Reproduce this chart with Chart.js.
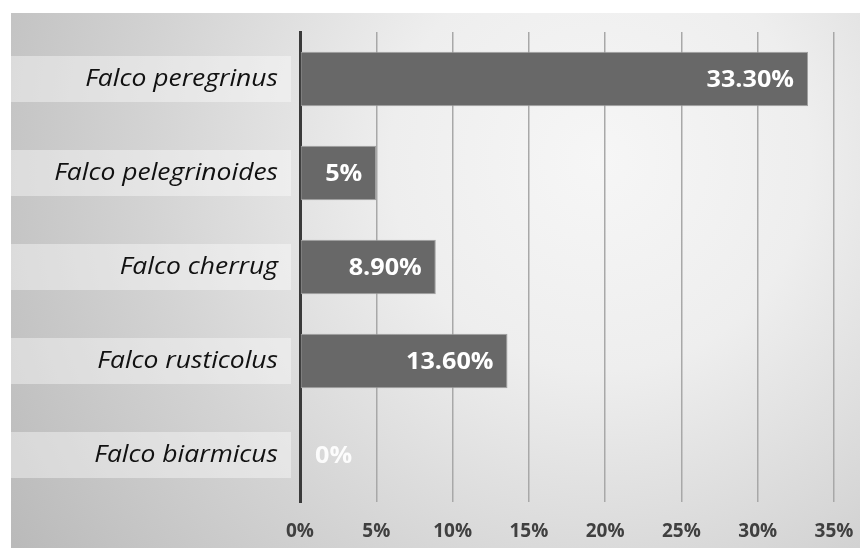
<!DOCTYPE html>
<html>
<head>
<meta charset="utf-8">
<script src="https://cdn.jsdelivr.net/npm/chart.js@4/dist/chart.umd.min.js"></script>
<style>
  html,body{margin:0;padding:0;background:#ffffff;}
  #wrap{position:relative;width:860px;height:548px;}
</style>
</head>
<body>
<div id="wrap"><canvas id="c" width="860" height="548"></canvas></div>
<script>
const categories = ['Falco peregrinus','Falco pelegrinoides','Falco cherrug','Falco rusticolus','Falco biarmicus'];
const percentValues = [33.3, 5, 8.9, 13.6, 0];
const valueLabels = ['33.30%','5%','8.90%','13.60%','0%'];
const tickValues = [0,5,10,15,20,25,30,35];

const bgPlugin = {
  id: 'bgPlugin',
  beforeDraw(chart) {
    const ctx = chart.ctx;
    const W = chart.width, H = chart.height;
    ctx.save();
    ctx.fillStyle = '#ffffff';
    ctx.fillRect(0,0,W,H);
    const g = ctx.createRadialGradient(600,160,0,600,160,700);
    g.addColorStop(0,'#f6f6f6');
    g.addColorStop(0.3,'#eeeeee');
    g.addColorStop(0.65,'#d3d3d3');
    g.addColorStop(1,'#bababa');
    ctx.fillStyle = g;
    ctx.fillRect(11,13,W-11,H-13);
    const y = chart.scales.y;
    const step = Math.abs(y.getPixelForValue(1) - y.getPixelForValue(0));
    const bandH = step*0.49;
    ctx.fillStyle = 'rgba(255,255,255,0.4)';
    categories.forEach((c,i)=>{
      const cy = y.getPixelForValue(i);
      ctx.fillRect(11, cy-bandH/2, 280, bandH);
    });
    ctx.restore();
  },
  afterDraw(chart) {
    // category labels (slightly widened, like the reference)
    const ctx = chart.ctx;
    const y = chart.scales.y;
    ctx.save();
    ctx.font = 'italic 23px "Open Sans"';
    ctx.fillStyle = '#111111';
    ctx.textAlign = 'right';
    ctx.textBaseline = 'middle';
    categories.forEach((c,i)=>{
      const cy = y.getPixelForValue(i);
      ctx.save();
      ctx.translate(278, cy);
      ctx.scale(1.15, 1);
      ctx.fillText(c, 0, 0);
      ctx.restore();
    });
    ctx.restore();
  }
};

const labelPlugin = {
  id: 'labelPlugin',
  afterDatasetsDraw(chart) {
    const ctx = chart.ctx;
    const meta = chart.getDatasetMeta(0);
    ctx.save();
    ctx.font = 'bold 24px "Open Sans"';
    ctx.textBaseline = 'middle';
    meta.data.forEach((bar,i)=>{
      const v = percentValues[i];
      ctx.save();
      if (v === 0) {
        ctx.fillStyle = 'rgba(255,255,255,0.9)';
        ctx.textAlign = 'left';
        ctx.translate(bar.x + 15, bar.y + 1);
      } else {
        ctx.fillStyle = '#ffffff';
        ctx.textAlign = 'right';
        ctx.translate(bar.x - 14, bar.y + 1);
      }
      ctx.scale(1.05, 1);
      ctx.fillText(valueLabels[i], 0, 0);
      ctx.restore();
    });
    ctx.restore();
  }
};

new Chart(document.getElementById('c'), {
  type: 'bar',
  data: {
    labels: categories,
    datasets: [{
      data: percentValues,
      backgroundColor: '#686868',
      borderColor: '#a0a0a0',
      borderWidth: 1,
      borderSkipped: false,
      categoryPercentage: 1,
      barPercentage: 0.58
    }]
  },
  options: {
    indexAxis: 'y',
    responsive: false,
    animation: false,
    devicePixelRatio: 1,
    layout: { padding: { top: 32, right: 26, left: 0, bottom: 0 } },
    plugins: { legend: { display: false }, tooltip: { enabled: false } },
    scales: {
      x: {
        type: 'linear',
        min: 0, max: 35,
        afterBuildTicks(scale) { scale.ticks = tickValues.map(v => ({ value: v })); },
        afterFit(scale) { scale.height = 46; scale.paddingLeft = 0; scale.paddingRight = 0; },
        border: { display: false },
        grid: {
          color: ctx => ctx.tick && ctx.tick.value === 0 ? 'rgba(0,0,0,0)' : '#a8a8a8',
          lineWidth: 1.5,
          drawTicks: false
        },
        ticks: {
          padding: 18,
          color: '#404040',
          font: { family: 'Open Sans', weight: 'bold', size: 19 },
          callback: v => v + '%'
        }
      },
      y: {
        afterFit(scale) { scale.width = 300; scale.paddingTop = 0; scale.paddingBottom = 0; },
        border: { display: true, color: '#3a3a3a', width: 3 },
        grid: { display: false, drawTicks: false },
        ticks: { display: false }
      }
    }
  },
  plugins: [bgPlugin, labelPlugin]
});
</script>
</body>
</html>
